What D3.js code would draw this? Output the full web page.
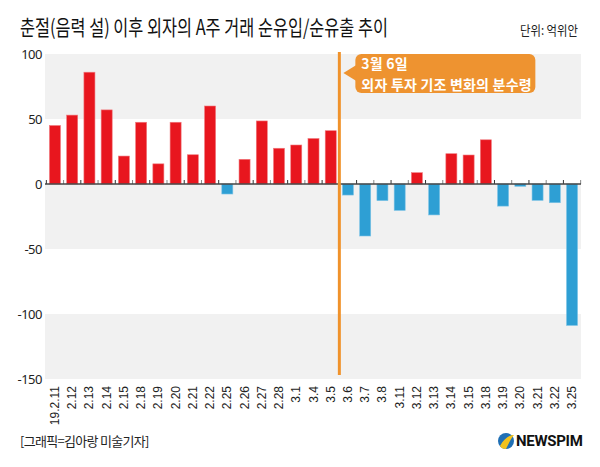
<!DOCTYPE html>
<html><head><meta charset="utf-8">
<script src="https://cdn.jsdelivr.net/npm/d3@7"></script>
<style>
body{margin:0;background:#fff;}
svg{display:block;}
text{font-family:"Noto Sans CJK KR","Noto Sans",sans-serif;}
</style></head>
<body>
<script>
const categories = ["19.2.11","2.12","2.13","2.14","2.15","2.18","2.19","2.20","2.21","2.22","2.25","2.26","2.27","2.28","3.1","3.4","3.5","3.6","3.7","3.8","3.11","3.12","3.13","3.14","3.15","3.18","3.19","3.20","3.21","3.22","3.25"];
const values = [45,53,86,57,21.5,47.5,15.5,47.5,22.5,60,-7.7,19,48.5,27.5,30,35,41,-8.5,-40,-12.8,-20.3,8.7,-23.8,23.3,22.3,34,-17,-1.8,-12.6,-14.4,-108.8];
const yTicks = [100,50,0,-50,-100,-150];
const title = "춘절(음력 설) 이후 외자의 A주 거래 순유입/순유출 추이";
const unitLabel = "단위: 억위안";
const markerCategory = "3.6";
const noteLines = ["3월 6일","외자 투자 기조 변화의 분수령"];
const credit = "[그래픽=김아랑 미술기자]";

const W = 600, H = 467;
const svg = d3.select("body").append("svg").attr("width", W).attr("height", H);

const x = d3.scaleBand().domain(categories).range([46, 581]).paddingInner(0.36).paddingOuter(0.2);
const y = d3.scaleLinear().domain([-150, 100]).range([379, 54]);

// background bands
const bands = d3.pairs(yTicks);
svg.append("g").selectAll("rect").data(bands).join("rect")
  .attr("x", 45).attr("width", 536)
  .attr("y", d => y(d[0])).attr("height", d => y(d[1]) - y(d[0]))
  .attr("fill", (d, i) => i % 2 === 0 ? "#f1f1f1" : "#ffffff");

// bars
svg.append("g").selectAll("rect").data(values).join("rect")
  .attr("x", (d, i) => x(categories[i]))
  .attr("width", x.bandwidth())
  .attr("y", d => y(Math.max(0, d)))
  .attr("height", d => Math.abs(y(d) - y(0)))
  .attr("fill", d => d >= 0 ? "#e8161e" : "#2e9fd4")
  .attr("stroke", d => d >= 0 ? "#f07a7e" : "#7cc3e6")
  .attr("stroke-width", 0.6);

// zero line and ticks
const step = x.step();
const boundaries = categories.map(c => x(c) - step * x.paddingInner() / 2).concat([x(categories[categories.length-1]) + x.bandwidth() + step * x.paddingInner() / 2]);
svg.append("g").selectAll("line").data(boundaries).join("line")
  .attr("x1", d => d).attr("x2", d => d)
  .attr("y1", y(0) - 4).attr("y2", y(0))
  .attr("stroke", (d, i) => i % 2 === 0 ? "#333" : "#888").attr("stroke-width", 1);
svg.append("line").attr("x1", 45).attr("x2", 581).attr("y1", y(0)).attr("y2", y(0))
  .attr("stroke", "#444").attr("stroke-width", 1.5);

// y axis labels
svg.append("g").selectAll("text").data(yTicks).join("text")
  .attr("x", 42).attr("y", d => y(d)).attr("dy", "0.36em")
  .attr("text-anchor", "end").attr("font-size", 13).attr("fill", "#222")
  .style("font-family", "'Noto Sans', sans-serif").attr("letter-spacing", -0.5)
  .text(d => d);

// x axis labels
svg.append("g").selectAll("text").data(categories).join("text")
  .attr("transform", d => `translate(${x(d) + x.bandwidth()/2 + 4},386) rotate(-90)`)
  .attr("text-anchor", "end").attr("font-size", 12).attr("fill", "#222")
  .style("font-family", "'Liberation Sans', Arial, sans-serif")
  .text(d => d);

// marker line
const mx = x(markerCategory) - step * x.paddingInner() / 2;
svg.append("line").attr("x1", mx).attr("x2", mx).attr("y1", 52).attr("y2", 375)
  .attr("stroke", "#f0922b").attr("stroke-width", 3);

// annotation
const bx = mx + 16, by = 54, bw = 180, bh = 39;
svg.append("rect").attr("x", bx).attr("y", by).attr("width", bw).attr("height", bh)
  .attr("rx", 6).attr("fill", "#ee9330");
svg.append("path").attr("d", `M${mx+4},${by+19} L${bx+1},${by+11} L${bx+1},${by+27} Z`).attr("fill", "#ee9330");
svg.append("g").selectAll("text").data(noteLines).join("text")
  .attr("x", bx + 6).attr("y", (d, i) => by + 15 + i * 20.5)
  .attr("font-size", 14).attr("font-weight", "bold").attr("fill", "#fff")
  .attr("letter-spacing", 0.2)
  .text(d => d);

// title
svg.append("text").attr("x", 20).attr("y", 35).attr("font-size", 21)
  .attr("fill", "#111").attr("textLength", 368).attr("lengthAdjust", "spacingAndGlyphs").text(title);
svg.append("text").attr("x", 520).attr("y", 35).attr("font-size", 13)
  .attr("fill", "#222").attr("textLength", 58).attr("lengthAdjust", "spacingAndGlyphs").text(unitLabel);

// credit
svg.append("text").attr("x", 20).attr("y", 446).attr("font-size", 13)
  .attr("fill", "#222").attr("letter-spacing", -0.7).text(credit);

// logo
const lg = svg.append("g").attr("transform", "translate(506,441)");
lg.append("circle").attr("r", 8).attr("fill", "#1f6fb5");
lg.append("path").attr("d", "M-6,5 C-2,-2 3,-6 8,-6 C4,-1 2,4 0,8 C-3,8 -5,7 -6,5 Z").attr("fill", "#f2c21b");
svg.append("text").attr("x", 516).attr("y", 446).attr("font-size", 15).attr("font-weight", "bold")
  .style("font-family", "'Liberation Sans Narrow','Roboto',sans-serif")
  .attr("fill", "#111").attr("letter-spacing", -0.3).text("NEWSPIM");
</script>
</body></html>
